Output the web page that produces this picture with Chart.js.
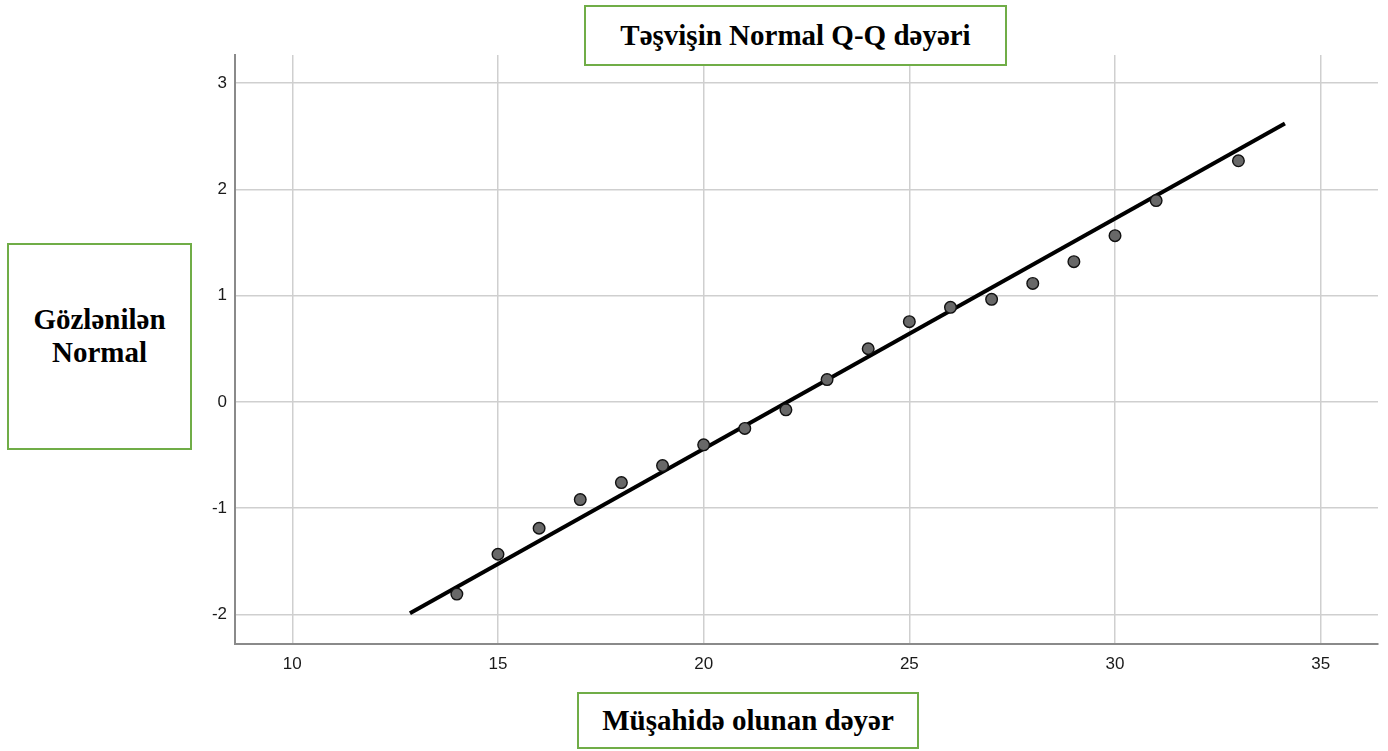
<!DOCTYPE html>
<html>
<head>
<meta charset="utf-8">
<script src="https://cdn.jsdelivr.net/npm/chart.js@4.4.0/dist/chart.umd.min.js"></script>
<style>
  html, body { margin: 0; padding: 0; background: #fff; }
  #wrap { position: relative; width: 1388px; height: 751px; }
  canvas { position: absolute; left: 0; top: 0; }
  .box {
    position: absolute;
    border: 2px solid #70ad47;
    background: #fff;
    box-sizing: border-box;
    font-family: "Liberation Serif", "Times New Roman", serif;
    font-weight: bold;
    font-size: 29px;
    color: #000;
    display: flex;
    align-items: center;
    justify-content: center;
    text-align: center;
  }
</style>
</head>
<body>
<div id="wrap">
  <canvas id="qq" width="1388" height="751"></canvas>
  <div class="box" style="left:584px; top:5px; width:423px; height:61px;">Təşvişin Normal Q-Q dəyəri</div>
  <div class="box" style="left:7px; top:243px; width:185px; height:207px; align-items:flex-start; padding-top:58px; line-height:33px;">Gözlənilən<br>Normal</div>
  <div class="box" style="left:577px; top:692px; width:342px; height:57px;">Müşahidə olunan dəyər</div>
</div>
<script>
// observed values and expected normal quantiles
var observed = [14, 15, 16, 17, 18, 19, 20, 21, 22, 23, 24, 25, 26, 27, 28, 29, 30, 31, 33];
var expected = [-1.81, -1.435, -1.19, -0.92, -0.76, -0.60, -0.405, -0.25, -0.075, 0.21, 0.50, 0.755, 0.89, 0.965, 1.115, 1.32, 1.565, 1.895, 2.27];

// reference line end points
var lineX = [12.86, 34.13];
var lineY = [-1.99, 2.62];

var xTicks = [10, 15, 20, 25, 30, 35];
var yTicks = [-2, -1, 0, 1, 2, 3];

document.addEventListener("DOMContentLoaded", function () {
    var ctx = document.getElementById('qq').getContext('2d');

    var points = observed.map(function (v, i) { return { x: v, y: expected[i] }; });
    var line = lineX.map(function (v, i) { return { x: v, y: lineY[i] }; });

    new Chart(ctx, {
        type: 'scatter',
        data: {
            datasets: [{
                type: 'line',
                data: line,
                borderColor: '#000',
                borderWidth: 4,
                pointRadius: 0,
                fill: false,
                order: 2
            }, {
                data: points,
                backgroundColor: '#686868',
                borderColor: '#111',
                borderWidth: 1.4,
                pointRadius: 5.8,
                order: 1
            }]
        },
        options: {
            responsive: false,
            animation: false,
            layout: { padding: { top: 55, right: 10, left: 0, bottom: 0 } },
            plugins: { legend: { display: false }, tooltip: { enabled: false } },
            scales: {
                x: {
                    type: 'linear',
                    min: 8.607,
                    max: 36.393,
                    afterFit: function (s) { s.height = 107; },
                    afterBuildTicks: function (s) { s.ticks = xTicks.map(function (v) { return { value: v }; }); },
                    grid: { color: '#cfcfcf', lineWidth: 1.5, drawTicks: false },
                    border: { color: '#8a8a8a', width: 2 },
                    ticks: { padding: 10, color: '#1a1a1a', font: { family: 'Liberation Sans', size: 17 } }
                },
                y: {
                    type: 'linear',
                    min: -2.28,
                    max: 3.266,
                    afterFit: function (s) { s.width = 235; },
                    afterBuildTicks: function (s) { s.ticks = yTicks.map(function (v) { return { value: v }; }); },
                    grid: { color: '#cfcfcf', lineWidth: 1.5, drawTicks: false },
                    border: { color: '#8a8a8a', width: 2 },
                    ticks: { padding: 8, color: '#1a1a1a', font: { family: 'Liberation Sans', size: 17 } }
                }
            }
        }
    });
});
</script>
</body>
</html>
